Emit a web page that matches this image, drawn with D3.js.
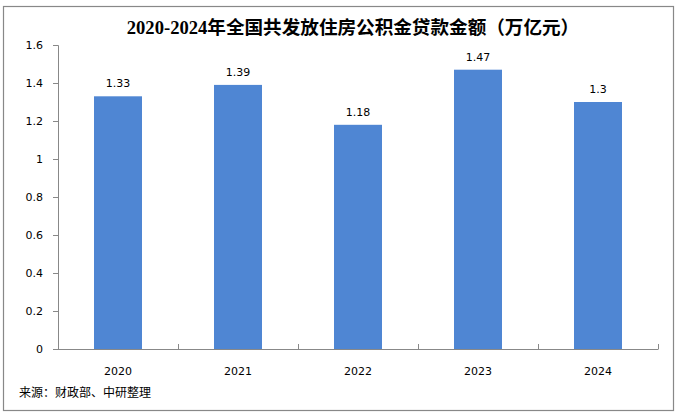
<!DOCTYPE html>
<html><head><meta charset="utf-8">
<script src="https://cdn.jsdelivr.net/npm/d3@7"></script>
<style>body{margin:0;background:#fff}svg{display:block}</style>
</head><body>
<svg id="c" width="677" height="417"></svg>
<script>
const categories = ["2020","2021","2022","2023","2024"];
const values = [1.33, 1.39, 1.18, 1.47, 1.3];
const valueLabels = ["1.33","1.39","1.18","1.47","1.3"];
const yTicks = [0,0.2,0.4,0.6,0.8,1,1.2,1.4,1.6];
const yTickLabels = ["0","0.2","0.4","0.6","0.8","1","1.2","1.4","1.6"];
const title = "2020-2024年全国共发放住房公积金贷款金额（万亿元）";
const source = "来源：财政部、中研整理";

const svg = d3.select("#c");
const sans = "Tahoma, 'DejaVu Sans', 'Noto Sans CJK SC', sans-serif";
svg.append("rect").attr("x",3.5).attr("y",6.5).attr("width",670).attr("height",404)
  .attr("fill","#fff").attr("stroke","#888").attr("stroke-width",1.2);

svg.append("text").attr("x",353).attr("y",34).attr("text-anchor","middle")
  .attr("font-family","'Liberation Serif','Noto Sans CJK SC',serif").attr("font-weight","bold")
  .attr("font-size",18.6).attr("fill","#000").text(title);

const x = d3.scaleBand().domain(categories).range([58,658]).paddingInner(0.6).paddingOuter(0.3);
const y = d3.scaleLinear().domain([0,1.6]).range([349,45]);

svg.selectAll("rect.bar").data(values).join("rect").attr("class","bar")
  .attr("x",(d,i)=>x(categories[i])).attr("width",x.bandwidth())
  .attr("y",d=>y(d)).attr("height",d=>y(0)-y(d)).attr("fill","#4F86D3");

svg.selectAll("text.vl").data(values).join("text").attr("class","vl")
  .attr("x",(d,i)=>x(categories[i])+x.bandwidth()/2).attr("y",d=>y(d)-9)
  .attr("text-anchor","middle").attr("font-family",sans).attr("font-size",11).attr("fill","#000")
  .text((d,i)=>valueLabels[i]);

const yAxis = d3.axisLeft(y).tickValues(yTicks).tickFormat((d,i)=>yTickLabels[i]).tickSize(5).tickPadding(10);
const gy = svg.append("g").attr("transform","translate(58,0)").call(yAxis);
gy.select(".domain").attr("stroke","#888").attr("d","M-5,45.5H0.5V349.5");
gy.selectAll(".tick line").attr("stroke","#888");
gy.selectAll(".tick text").attr("font-family",sans).attr("font-size",11).attr("fill","#000");

const step = x.step();
const gx = svg.append("g");
gx.append("line").attr("x1",58).attr("x2",658).attr("y1",349.5).attr("y2",349.5).attr("stroke","#888");
const edges = [58].concat(categories.map(c=>x(c)+x.bandwidth()/2 + step/2));
gx.selectAll("line.t").data(edges).join("line").attr("class","t")
  .attr("x1",d=>Math.round(d)+0.5).attr("x2",d=>Math.round(d)+0.5).attr("y1",344).attr("y2",349.5).attr("stroke","#888");
gx.selectAll("text").data(categories).join("text")
  .attr("x",d=>x(d)+x.bandwidth()/2).attr("y",375).attr("text-anchor","middle")
  .attr("font-family",sans).attr("font-size",11).attr("fill","#000").text(d=>d);

svg.append("text").attr("x",19).attr("y",397).attr("font-family","'Noto Sans CJK SC',sans-serif")
  .attr("font-size",12).attr("fill","#000").text(source);
</script>
</body></html>
